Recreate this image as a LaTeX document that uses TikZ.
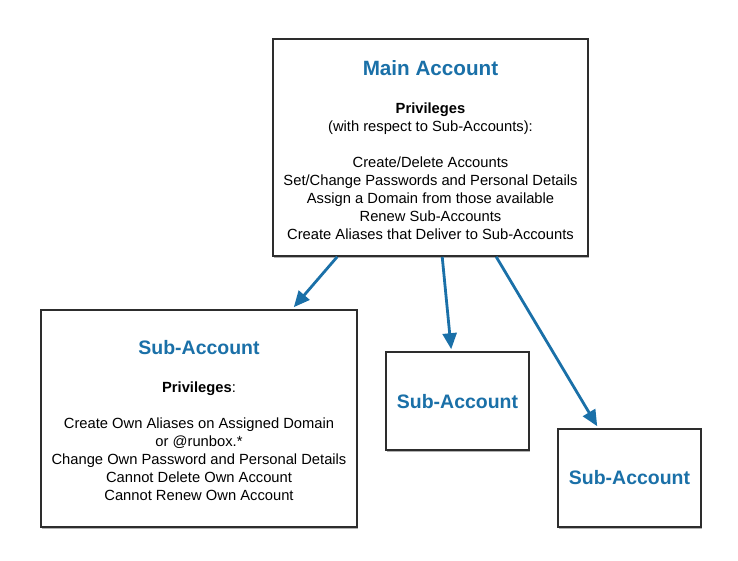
\documentclass[tikz,border=0pt]{standalone}
\usepackage{fontspec}
\setmainfont{Liberation Sans}
\usetikzlibrary{arrows.meta,shadows,calc}
\definecolor{acctblue}{RGB}{26,112,168}
\definecolor{boxline}{RGB}{45,45,45}
\tikzset{
  acctbox/.style={draw=boxline, line width=1.2pt, fill=white, rectangle, inner sep=0pt,
    drop shadow={shadow xshift=0.9pt, shadow yshift=-1.3pt, opacity=0.3, fill=black}},
  title/.style={font=\fontsize{15.5}{18}\selectfont\bfseries, text=acctblue, inner sep=0pt},
  subtitle/.style={font=\fontsize{14.6}{18}\selectfont\bfseries, text=acctblue, inner sep=0pt},
  body/.style={font=\fontsize{11.05}{13.5}\selectfont, align=center, inner sep=0pt},
  arr/.style={draw=acctblue, line width=2.1pt, -{Triangle[length=12pt,width=10.5pt]}}
}
\begin{document}
\begin{tikzpicture}[x=0.75pt, y=-0.75pt]
\useasboundingbox (0,0) rectangle (738,560);
% boxes
\node[acctbox, minimum width=315*0.75pt, minimum height=217*0.75pt] (main) at (430.5,147.5) {};
\node[acctbox, minimum width=316*0.75pt, minimum height=217*0.75pt] (sub1) at (199,418.5) {};
\node[acctbox, minimum width=143*0.75pt, minimum height=98*0.75pt] (sub2) at (457.5,401) {};
\node[acctbox, minimum width=143*0.75pt, minimum height=98*0.75pt] (sub3) at (629.5,478) {};
% texts
\node[title] (maint) at (430.5,68) {Main Account};
\node[body] (mainb) at (430.5,171) {\textbf{Privileges}\\(with respect to Sub-Accounts):\\[13.5pt]Create/Delete Accounts\\Set/Change Passwords and Personal Details\\Assign a Domain from those available\\Renew Sub-Accounts\\Create Aliases that Deliver to Sub-Accounts};
\node[subtitle] (sub1t) at (199,348) {Sub-Account};
\node[body] (sub1b) at (199,441) {\textbf{Privileges}:\\[13.5pt]Create Own Aliases on Assigned Domain\\or @runbox.*\\Change Own Password and Personal Details\\Cannot Delete Own Account\\Cannot Renew Own Account};
\node[subtitle] (sub2t) at (457.5,402) {Sub-Account};
\node[subtitle] (sub3t) at (629.5,478) {Sub-Account};
% connectors
\draw[arr] ($(main.south west)+(65,0)$) -- ($(sub1.north east)+(-64,-2)$);
\draw[arr] ($(main.south west)+(170,0)$) -- ($(sub2.north west)+(66,-2)$);
\draw[arr] ($(main.south west)+(224,0)$) -- ($(sub3.north west)+(40,-2)$);
\end{tikzpicture}
\end{document}
